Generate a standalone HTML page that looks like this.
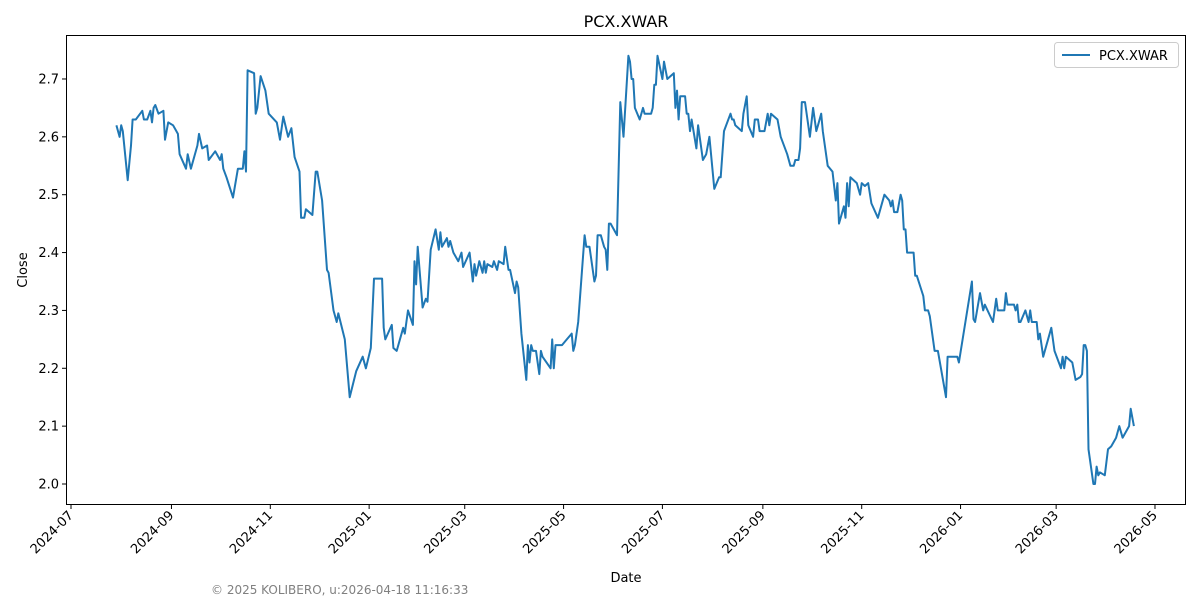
<!DOCTYPE html>
<html><head><meta charset="utf-8"><style>
body{margin:0;background:#fff;font-family:"Liberation Sans","DejaVu Sans",sans-serif;}
svg text{font-family:"DejaVu Sans","Liberation Sans",sans-serif;}
</style></head><body>
<svg id="chart" width="1200" height="600" xmlns="http://www.w3.org/2000/svg">
<rect x="0" y="0" width="1200" height="600" fill="#fff"/>
<text x="626" y="27" text-anchor="middle" font-size="16">PCX.XWAR</text>
<g id="grid"></g>
<path id="line" fill="none" stroke="#1f77b4" stroke-width="2" stroke-linejoin="round"/>
<rect x="66.5" y="35.5" width="1119" height="469" fill="none" stroke="#000" stroke-width="1"/>
<g>
<rect x="1054.5" y="42.5" width="124" height="25" fill="#fff" stroke="#ccc" rx="3"/>
<line x1="1062" y1="55" x2="1090" y2="55" stroke="#1f77b4" stroke-width="2"/>
<text x="1099" y="60" font-size="13">PCX.XWAR</text>
</g>
<text x="626" y="582" text-anchor="middle" font-size="13">Date</text>
<text x="27" y="270" text-anchor="middle" font-size="13" transform="rotate(-90 27 270)">Close</text>
<text x="211" y="594" font-size="12" fill="#808080">© 2025 KOLIBERO, u:2026-04-18 11:16:33</text>
</svg>
<script>
const days=[28,30,31,32,35,37,38,40,44,45,47,49,50,51,52,54,57,58,60,63,66,67,71,72,74,78,79,81,84,85,89,92,93,94,96,100,103,106,107,108,109,113,114,115,117,120,122,127,129,131,134,136,138,141,142,144,145,149,151,152,155,158,159,162,164,165,169,172,176,180,182,185,187,192,193,194,198,199,201,205,206,208,211,212,213,214,217,219,220,222,225,227,228,229,232,233,234,236,239,241,242,246,248,249,250,252,254,255,256,257,260,261,263,264,267,268,270,271,274,275,276,278,281,282,283,284,285,287,289,290,291,296,297,298,299,303,306,309,310,311,313,317,318,320,323,324,325,327,329,330,331,332,333,335,337,339,341,344,345,346,347,348,351,353,354,358,359,360,361,362,365,366,368,372,373,374,375,376,379,380,381,382,383,386,387,390,392,394,397,400,401,403,407,408,409,410,414,415,417,418,421,422,424,425,428,430,431,432,436,438,442,444,446,447,449,450,451,453,456,458,460,461,463,464,467,470,472,473,474,477,478,479,480,481,485,487,488,490,492,494,498,502,505,506,507,508,510,512,513,514,515,516,520,521,522,526,527,529,530,533,535,540,541,547,548,556,557,558,561,563,564,569,571,572,576,577,578,582,583,584,585,586,589,591,592,593,596,597,598,600,605,607,611,612,613,614,618,620,623,624,625,626,627,628,631,632,633,634,635,638,640,642,645,647,649,653,654,656];
const closes=[2.62,2.60,2.62,2.61,2.525,2.585,2.63,2.63,2.645,2.63,2.63,2.645,2.625,2.65,2.655,2.64,2.645,2.595,2.625,2.62,2.605,2.57,2.545,2.57,2.545,2.585,2.605,2.58,2.585,2.56,2.575,2.56,2.57,2.545,2.53,2.495,2.545,2.545,2.575,2.54,2.715,2.71,2.64,2.65,2.705,2.68,2.64,2.625,2.595,2.635,2.60,2.615,2.565,2.54,2.46,2.46,2.475,2.465,2.54,2.54,2.49,2.37,2.365,2.30,2.28,2.295,2.25,2.15,2.195,2.22,2.20,2.235,2.355,2.355,2.27,2.25,2.275,2.235,2.23,2.27,2.26,2.30,2.275,2.385,2.345,2.41,2.305,2.32,2.315,2.405,2.44,2.405,2.435,2.41,2.425,2.41,2.42,2.40,2.385,2.40,2.375,2.40,2.35,2.38,2.36,2.385,2.365,2.385,2.365,2.38,2.375,2.385,2.37,2.385,2.38,2.41,2.37,2.37,2.33,2.35,2.34,2.26,2.18,2.24,2.21,2.24,2.23,2.23,2.19,2.23,2.22,2.20,2.25,2.20,2.24,2.24,2.25,2.26,2.23,2.24,2.28,2.43,2.41,2.41,2.35,2.36,2.43,2.43,2.41,2.405,2.37,2.45,2.45,2.44,2.43,2.66,2.60,2.74,2.73,2.70,2.70,2.65,2.63,2.65,2.64,2.64,2.65,2.69,2.69,2.74,2.70,2.73,2.70,2.71,2.65,2.68,2.63,2.67,2.67,2.64,2.64,2.61,2.63,2.58,2.62,2.56,2.57,2.60,2.51,2.53,2.53,2.61,2.64,2.63,2.63,2.62,2.61,2.64,2.67,2.62,2.60,2.63,2.63,2.61,2.61,2.64,2.62,2.64,2.63,2.60,2.57,2.55,2.55,2.56,2.56,2.58,2.66,2.66,2.60,2.65,2.61,2.62,2.64,2.61,2.55,2.54,2.49,2.52,2.45,2.48,2.46,2.52,2.48,2.53,2.52,2.50,2.52,2.515,2.52,2.485,2.46,2.50,2.49,2.48,2.49,2.47,2.47,2.50,2.49,2.44,2.44,2.40,2.40,2.36,2.36,2.325,2.30,2.30,2.29,2.23,2.23,2.15,2.22,2.22,2.21,2.35,2.285,2.28,2.33,2.30,2.31,2.28,2.32,2.30,2.30,2.33,2.31,2.31,2.30,2.31,2.28,2.28,2.30,2.28,2.30,2.28,2.28,2.25,2.26,2.22,2.27,2.23,2.20,2.22,2.20,2.22,2.21,2.18,2.185,2.19,2.24,2.24,2.23,2.06,2.00,2.00,2.03,2.015,2.02,2.015,2.06,2.065,2.08,2.10,2.08,2.10,2.13,2.10];
const yTicks=[2.0,2.1,2.2,2.3,2.4,2.5,2.6,2.7];
const xTickLabels=["2024-07","2024-09","2024-11","2025-01","2025-03","2025-05","2025-07","2025-09","2025-11","2026-01","2026-03","2026-05"];

const ns="http://www.w3.org/2000/svg";
const base=Date.UTC(2024,6,1);
function xScale(d){return 71+d*1.6203;}
function yScale(v){return 484-(v-2.0)*578.6;}
function mk(tag,attrs,parent){const e=document.createElementNS(ns,tag);for(const k in attrs)e.setAttribute(k,attrs[k]);parent.appendChild(e);return e;}
const g=document.getElementById('grid');
yTicks.forEach(t=>{
  const y=yScale(t);
  const tk=mk('line',{x1:62,x2:66,y1:y,y2:y,stroke:'#000'},g);
  
  
  const tx=mk('text',{x:59,y:y+4.5,'text-anchor':'end','font-size':13},g);
  
  
  tx.textContent=t.toFixed(1);
});
xTickLabels.forEach(l=>{
  const [yy,mm]=l.split('-').map(Number);
  const d=(Date.UTC(yy,mm-1,1)-base)/86400000;
  const x=xScale(d);
  const tk=mk('line',{x1:x,x2:x,y1:505,y2:509,stroke:'#000'},g);
  
  
  const tx=mk('text',{x:x+3,y:516,'text-anchor':'end','font-size':13,transform:`rotate(-45 ${x+3} 516)`},g);
  
  
  tx.textContent=l;
});
let p='';
days.forEach((d,i)=>{p+=(i?'L':'M')+xScale(d).toFixed(1)+','+yScale(closes[i]).toFixed(1);});
document.getElementById('line').setAttribute('d',p);
</script>
</body></html>
